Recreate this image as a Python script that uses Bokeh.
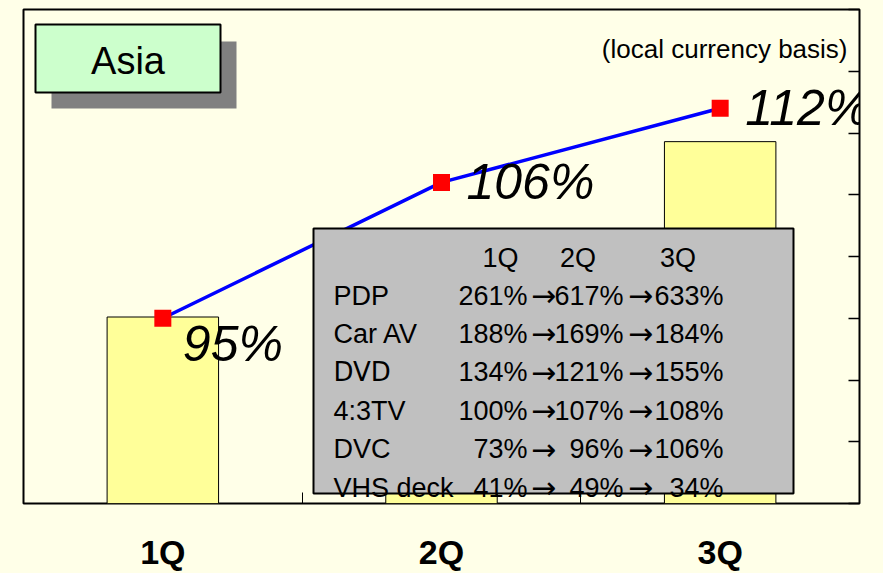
from bokeh.plotting import figure
from bokeh.models import Range1d, LinearAxis, FixedTicker
from bokeh.core.properties import value
from bokeh.embed import file_html
from bokeh.resources import INLINE

# ---------------- data ----------------
quarters = ["1Q", "2Q", "3Q"]
sales_index = [15.1, 22.0, 29.3]          # bar heights (no scale shown)
growth_pct = [95, 106, 112]               # line values (%)
pct_ticks = [80, 85, 90, 95, 100, 105, 110, 115, 120]

products = ["PDP", "Car AV", "DVD", "4:3TV", "DVC", "VHS deck"]
q1_pct = [261, 188, 134, 100, 73, 41]
q2_pct = [617, 169, 121, 107, 96, 49]
q3_pct = [633, 184, 155, 108, 106, 34]

# ---------------- layout ----------------
BG = "#FFFFE8"
W, H = 883, 573
ML, MT, MR, MB = 23, 9, 24, 70
YMAX = 40
FONT = "Liberation Sans"

p = figure(width=W, height=H, output_backend="svg", toolbar_location=None,
           x_range=Range1d(0, len(quarters)), y_range=Range1d(0, YMAX),
           x_axis_location=None, y_axis_location=None,
           min_border_left=ML, min_border_top=MT, min_border_right=MR,
           min_border_bottom=MB,
           background_fill_color=BG, border_fill_color=BG)
p.grid.visible = False
p.outline_line_color = "black"
p.outline_line_width = 2
p.extra_y_ranges = {"pct": Range1d(80, 120)}

xc = [i + 0.5 for i in range(len(quarters))]

xaxis = LinearAxis(
    ticker=FixedTicker(ticks=xc, minor_ticks=list(range(len(quarters) + 1))),
    major_label_overrides={c: q for c, q in zip(xc, quarters)},
    major_tick_in=0, major_tick_out=0, minor_tick_in=11, minor_tick_out=0,
    minor_tick_line_color="black", minor_tick_line_width=1,
    axis_line_color=None, major_label_standoff=29,
    major_label_text_font=FONT, major_label_text_font_size="34px",
    major_label_text_font_style="bold", major_label_text_color="black")
p.add_layout(xaxis, "below")

raxis = LinearAxis(
    y_range_name="pct", ticker=FixedTicker(ticks=pct_ticks, minor_ticks=[]),
    major_label_overrides={t: "" for t in pct_ticks},
    major_tick_in=11, major_tick_out=0, major_tick_line_width=1.5,
    axis_line_color=None, major_label_standoff=0,
    major_label_text_font_size="0px")
p.add_layout(raxis, "right")

# helpers for decoration placement (page pixels -> data units)
FX0, FY0 = ML, MT
FW, FH = W - ML - MR, H - MT - MB
def dx(px):
    return (px - FX0) / FW * len(quarters)
def dy(py):
    return (FY0 + FH - py) / FH * YMAX

# ---------------- marks ----------------
p.vbar(x=xc, top=sales_index, bottom=0, width=0.4,
       fill_color="#FFFF99", line_color="black", line_width=1)
p.line(xc, growth_pct, y_range_name="pct", line_color="#0000FF", line_width=3.5)
p.scatter(xc, growth_pct, y_range_name="pct", marker="square", size=17,
          fill_color="#FF0000", line_color=None)

labels = [f"{v}%" for v in growth_pct]
lab_style = dict(y_range_name="pct", text_baseline="middle", text_align="left",
                 text_font=value(FONT), text_font_style="italic",
                 text_font_size="50px", text_color="black")
p.text(xc[:1], growth_pct[:1], text=labels[:1], x_offset=20, y_offset=26, **lab_style)
p.text(xc[1:], growth_pct[1:], text=labels[1:], x_offset=25, y_offset=0, **lab_style)

# title box with shadow
p.quad(left=[dx(51)], right=[dx(236)], top=[dy(41)], bottom=[dy(108)],
       fill_color="#808080", line_color=None)
p.quad(left=[dx(35)], right=[dx(220)], top=[dy(24)], bottom=[dy(92)],
       fill_color="#CCFFCC", line_color="black", line_width=2)
p.text(x=[dx(127.5)], y=[dy(60)], text=["Asia"], text_align="center",
       text_baseline="middle", text_font=value(FONT), text_font_size="38px",
       text_color="black")

p.text(x=[dx(847)], y=[dy(48)], text=["(local currency basis)"],
       text_align="right", text_baseline="alphabetic", text_font=value(FONT),
       text_font_size="26px", text_color="black")

# growth table overlay
p.quad(left=[dx(313)], right=[dx(793)], top=[dy(228)], bottom=[dy(493)],
       fill_color="#C0C0C0", line_color="black", line_width=2)

tstyle = dict(text_baseline="alphabetic", text_font=value(FONT),
              text_font_size="27px", text_color="black")
p.text(x=[dx(500), dx(577.5), dx(677.5)], y=[dy(257)] * 3, text=quarters,
       text_align="center", **tstyle)

row_y = [dy(295 + i * 38.4) for i in range(len(products))]
n_idx = [i for i, n in enumerate(products) if n != "DVD"]
d_idx = [i for i, n in enumerate(products) if n == "DVD"]
p.text(x=[dx(333)] * len(n_idx), y=[row_y[i] for i in n_idx],
       text=[products[i] for i in n_idx], text_align="left", **tstyle)
p.text(x=[dx(333)] * len(d_idx), y=[row_y[i] for i in d_idx],
       text=[products[i] for i in d_idx], text_align="left",
       text_baseline="alphabetic", text_font=value("DejaVu Sans"),
       text_font_size="26px", text_color="black")

n = len(products)
astyle = dict(text_baseline="alphabetic", text_font=value("DejaVu Sans"),
              text_font_size="30px", text_color="black", text_align="center")
p.text(x=[dx(527)] * n, y=row_y, text=[f"{v}%" for v in q1_pct], text_align="right", **tstyle)
p.text(x=[dx(543)] * n, y=row_y, text=["\u2192"] * n, **astyle)
p.text(x=[dx(623)] * n, y=row_y, text=[f"{v}%" for v in q2_pct], text_align="right", **tstyle)
p.text(x=[dx(640)] * n, y=row_y, text=["\u2192"] * n, **astyle)
p.text(x=[dx(723)] * n, y=row_y, text=[f"{v}%" for v in q3_pct], text_align="right", **tstyle)

html = file_html(p, INLINE)
html = html.replace("</head>", f"<style>body{{background-color:{BG};}}</style></head>", 1)
open("out.html", "w").write(html)
